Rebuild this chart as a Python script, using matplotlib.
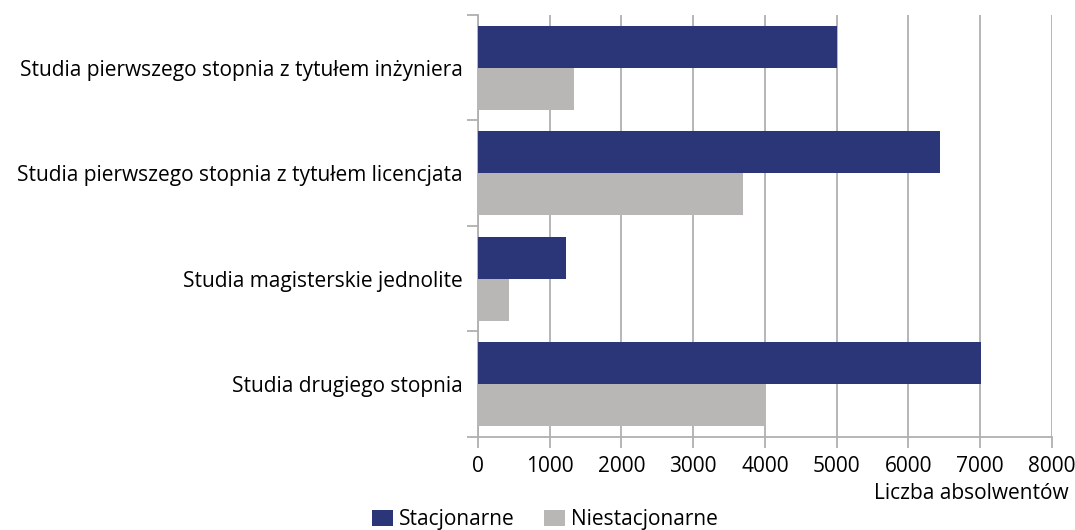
import matplotlib.pyplot as plt
import numpy as np

kategorie = ["Studia pierwszego stopnia z tytułem inżyniera",
             "Studia pierwszego stopnia z tytułem licencjata",
             "Studia magisterskie jednolite",
             "Studia drugiego stopnia"]
stacjonarne = [5010, 6440, 1220, 7010]
niestacjonarne = [1340, 3690, 430, 4020]

plt.rcParams['font.family'] = ['Open Sans', 'DejaVu Sans']
szary = '#b0b0b0'
fs = 15

fig = plt.figure(figsize=(10.75, 5.3), dpi=100)
ax = fig.add_axes([0.4447, 0.1755, 0.9783 - 0.4447, 0.9717 - 0.1755])

y = np.arange(len(kategorie))
h = 0.4
ax.barh(y - h / 2, stacjonarne, height=h, color='#2b3679', label='Stacjonarne', zorder=3)
ax.barh(y + h / 2, niestacjonarne, height=h, color='#b8b7b5', label='Niestacjonarne', zorder=3)

ax.set_ylim(len(kategorie) - 0.5, -0.5)
ax.set_xlim(0, 8000)
ax.set_xticks(np.arange(0, 8001, 1000))
ax.set_yticks(y)
ax.set_yticklabels(kategorie, fontsize=fs)
ax.set_yticks(np.arange(-0.5, len(kategorie)), minor=True)
ax.tick_params(axis='y', which='major', length=0, pad=11)
ax.tick_params(axis='y', which='minor', length=8, color=szary, width=1.3)
ax.tick_params(axis='x', length=8, color=szary, width=1.3, labelsize=fs, pad=6)
ax.grid(axis='x', color=szary, linewidth=1.3, zorder=0)

for s in ['top', 'right']:
    ax.spines[s].set_visible(False)
for s in ['left', 'bottom']:
    ax.spines[s].set_color(szary)
    ax.spines[s].set_linewidth(1.3)

fig.text(0.994, 0.068, 'Liczba absolwentów', ha='right', va='center', fontsize=fs)
fig.legend(loc='center', bbox_to_anchor=(0.507, 0.02), ncol=2, frameon=False,
           fontsize=fs, handlelength=1.0, handleheight=0.8, handletextpad=0.3,
           columnspacing=1.4)

fig.savefig('out.png', dpi=100)
